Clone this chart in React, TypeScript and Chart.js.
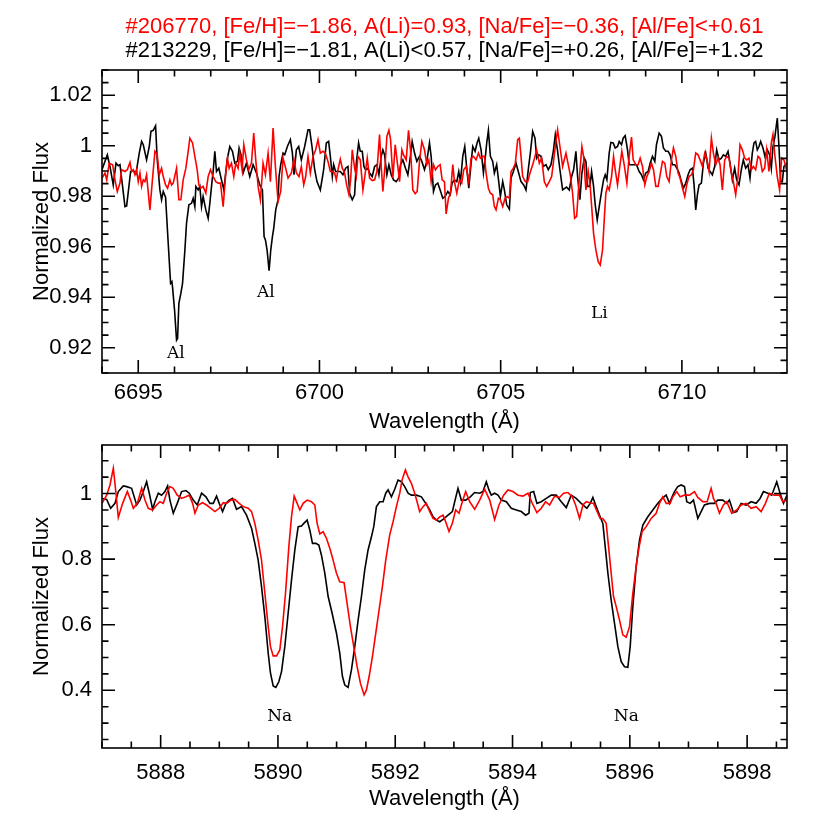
import { useEffect, useRef } from 'react';
import { Chart, registerables } from 'chart.js';

Chart.register(...registerables);

const SANS = '"Liberation Sans", Arial, sans-serif';
const SERIF = '"DejaVu Serif", "Liberation Serif", serif';

const titleRed = '#206770, [Fe/H]=\u22121.86, A(Li)=0.93, [Na/Fe]=\u22120.36, [Al/Fe]<+0.61';
const titleBlack = '#213229, [Fe/H]=\u22121.81, A(Li)<0.57, [Na/Fe]=+0.26, [Al/Fe]=+1.32';

// ---------- Top panel (Li / Al region) ----------
const topXTicks = [6695, 6700, 6705, 6710];
const topYTicks = [0.92, 0.94, 0.96, 0.98, 1.0, 1.02];

const topBlackWave = [6694.0, 6694.147, 6694.22, 6694.31, 6694.386, 6694.45, 6694.496, 6694.634, 6694.68, 6694.79, 6694.863, 6694.937, 6695.028, 6695.093, 6695.139, 6695.23, 6695.304, 6695.35, 6695.414, 6695.478, 6695.524, 6695.598, 6695.644, 6695.69, 6695.754, 6695.827, 6695.892, 6695.928, 6695.947, 6696.002, 6696.057, 6696.085, 6696.121, 6696.176, 6696.222, 6696.287, 6696.332, 6696.397, 6696.47, 6696.516, 6696.562, 6696.59, 6696.654, 6696.7, 6696.746, 6696.79, 6696.865, 6696.929, 6696.975, 6697.04, 6697.067, 6697.113, 6697.159, 6697.223, 6697.297, 6697.361, 6697.453, 6697.526, 6697.6, 6697.664, 6697.737, 6697.783, 6697.848, 6697.894, 6697.985, 6698.077, 6698.169, 6698.261, 6698.353, 6698.426, 6698.472, 6698.509, 6698.555, 6698.61, 6698.656, 6698.702, 6698.738, 6698.793, 6698.858, 6698.885, 6698.931, 6698.995, 6699.041, 6699.115, 6699.197, 6699.253, 6699.298, 6699.363, 6699.427, 6699.5, 6699.592, 6699.684, 6699.73, 6699.794, 6699.868, 6699.932, 6700.024, 6700.116, 6700.189, 6700.253, 6700.3, 6700.355,
  6700.391, 6700.446, 6700.511, 6700.575, 6700.648, 6700.722, 6700.786, 6700.832, 6700.905, 6700.97, 6701.016, 6701.08, 6701.126, 6701.181, 6701.227, 6701.273, 6701.337, 6701.383, 6701.456, 6701.521, 6701.585, 6701.64, 6701.704, 6701.75, 6701.796, 6701.86, 6701.916, 6701.98, 6702.044, 6702.118, 6702.182, 6702.237, 6702.301, 6702.375, 6702.439, 6702.503, 6702.558, 6702.623, 6702.687, 6702.76, 6702.825, 6702.898, 6702.962, 6703.036, 6703.082, 6703.146, 6703.201, 6703.265, 6703.33, 6703.403, 6703.467, 6703.541, 6703.605, 6703.66, 6703.724, 6703.789, 6703.844, 6703.89, 6703.954, 6704.009, 6704.064, 6704.12, 6704.184, 6704.23, 6704.294, 6704.349, 6704.395, 6704.459, 6704.524, 6704.578, 6704.615, 6704.661, 6704.716, 6704.78, 6704.826, 6704.89, 6704.946, 6704.992, 6705.056, 6705.102, 6705.166, 6705.24, 6705.286, 6705.35, 6705.423, 6705.497, 6705.561, 6705.635, 6705.699, 6705.772, 6705.818, 6705.883, 6705.947, 6705.993, 6706.048, 6706.112, 6706.177, 6706.25, 6706.314, 6706.388, 6706.452, 6706.507, 6706.571, 6706.635, 6706.709,
  6706.819, 6706.893, 6706.957, 6707.012, 6707.076, 6707.122, 6707.186, 6707.241, 6707.306, 6707.352, 6707.398, 6707.462, 6707.508, 6707.563, 6707.609, 6707.664, 6707.719, 6707.792, 6707.838, 6707.884, 6707.93, 6707.994, 6708.04, 6708.105, 6708.16, 6708.224, 6708.27, 6708.334, 6708.38, 6708.435, 6708.5, 6708.545, 6708.61, 6708.683, 6708.748, 6708.821, 6708.885, 6708.94, 6709.004, 6709.069, 6709.124, 6709.188, 6709.253, 6709.298, 6709.372, 6709.436, 6709.491, 6709.556, 6709.62, 6709.675, 6709.739, 6709.804, 6709.859, 6709.923, 6709.987, 6710.042, 6710.106, 6710.171, 6710.226, 6710.29, 6710.336, 6710.382, 6710.428, 6710.474, 6710.538, 6710.593, 6710.657, 6710.722, 6710.777, 6710.841, 6710.905, 6710.96, 6711.025, 6711.089, 6711.144, 6711.208, 6711.273, 6711.328, 6711.392, 6711.456, 6711.511, 6711.576, 6711.64, 6711.695, 6711.759, 6711.824, 6711.879, 6711.943, 6711.989, 6712.035, 6712.081, 6712.127, 6712.173, 6712.237, 6712.292, 6712.357, 6712.421, 6712.467, 6712.513, 6712.568, 6712.632, 6712.678, 6712.724, 6712.77, 6712.816, 6712.9];
const topBlackFlux = [0.9905, 0.9964, 0.9918, 0.9845, 0.9931, 0.9921, 0.9925, 0.9759, 0.9762, 0.9898, 0.9902, 0.9889, 0.9971, 1.0017, 1.0004, 0.9944, 0.9997, 1.0057, 1.0061, 1.0079, 0.9944, 0.9825, 0.9786, 0.9819, 0.9796, 0.9614, 0.9455, 0.9462, 0.9439, 0.9349, 0.923, 0.9237, 0.9376, 0.9415, 0.9455, 0.9587, 0.9693, 0.9766, 0.9772, 0.9792, 0.9759, 0.9839, 0.9825, 0.9839, 0.9759, 0.9799, 0.9746, 0.9713, 0.9772, 0.9865, 0.9898, 0.9978, 0.9898, 0.9911, 0.9865, 0.9825, 0.9944, 0.9997, 0.9978, 0.9931, 0.9938, 0.9991, 0.9958, 0.9892, 0.9931, 0.9878, 0.9925, 0.9892, 0.9845, 0.9825, 0.964, 0.9627, 0.9587, 0.9505, 0.9587, 0.964, 0.9673, 0.9746, 0.9786, 0.9878, 0.9925, 0.9971, 0.9964, 0.9997, 1.0024, 0.9971, 0.9885, 0.9984, 0.9997, 0.9944, 0.9997, 1.0063, 1.0063, 0.9997, 0.9905, 0.9858, 0.9825, 0.9905, 1.0011, 1.0017, 0.9958, 0.9878,
  0.9925, 0.9898, 0.9898, 0.9898, 0.9885, 0.9911, 0.9918, 0.9812, 0.9786, 0.9806, 0.9931, 1.0011, 0.9978, 0.9978, 0.9918, 0.9905, 0.9911, 0.9892, 0.9878, 0.9918, 0.9925, 0.9885, 0.9958, 0.9984, 0.9964, 0.9885, 0.9925, 0.9885, 0.9865, 0.9858, 0.9872, 0.9925, 0.9944, 0.9911, 0.9885, 0.9951, 1.0017, 0.9971, 0.9938, 0.9958, 0.9938, 0.9905, 0.9938, 1.0011, 0.9958, 0.9819, 0.9845, 0.9852, 0.9825, 0.9792, 0.9799, 0.9819, 0.9806, 0.9852, 0.9865, 0.9858, 0.9898, 0.9858, 0.9958, 0.9997, 0.9911, 0.9832, 0.9931, 0.9997, 0.9978, 1.0011, 1.003, 0.9984, 0.9892, 0.9958, 1.0011, 1.0061, 0.9958, 0.9938, 0.9892, 0.9925, 0.9858, 0.9799, 0.9858, 0.9825, 0.9766, 0.9749, 0.9872, 0.9898, 0.9931, 0.9892, 0.9858, 0.9845, 0.9825, 0.9918, 0.9971, 1.0057, 1.003, 0.9951, 0.9964, 0.9958, 0.9918, 0.9925, 0.9905, 0.9925, 0.9978, 1.0044, 0.9978, 0.9905, 0.9825,
  0.9836, 0.9825, 0.9878, 0.9905, 0.9978, 0.9878, 0.9786, 0.9892, 0.9951, 0.9938, 0.9839, 0.9839, 0.9898, 0.9839, 0.9766, 0.9706, 0.9759, 0.9825, 0.9865, 0.9885, 0.9865, 0.9971, 1.0013, 1.0011, 0.9991, 0.9997, 1.0017, 1.0004, 1.003, 1.004, 0.9984, 0.9925, 0.9925, 0.9925, 0.9925, 0.9898, 0.9885, 0.9865, 0.9892, 0.9898, 0.9931, 0.9958, 0.9938, 1.0004, 1.005, 1.0037, 0.9991, 0.9978, 0.9978, 0.9964, 0.9925, 0.9925, 0.9911, 0.9892, 0.9858, 0.9832, 0.9852, 0.9885, 0.9905, 0.9911, 0.9845, 0.9746, 0.9806, 0.9845, 0.9852, 0.9931, 0.9971, 0.9911, 0.9898, 0.9885, 0.9918, 0.9984, 0.9944, 0.9951, 0.9964, 0.9958, 0.9978, 0.9931, 0.9865, 0.9911, 0.9865, 0.9845, 0.9905, 0.9944, 0.9911, 0.9925, 0.9872, 0.9971, 1.0011, 1.0017, 0.9984, 0.9997, 1.0017, 0.9991, 0.9958, 0.9984, 0.9964, 0.9911, 0.9997, 1.0037, 1.011, 0.9997, 0.9858, 0.9858, 0.9918, 0.9931];

const topRedWave = [6694.0, 6694.083, 6694.13, 6694.2, 6694.294, 6694.358, 6694.422, 6694.496, 6694.54, 6694.634, 6694.698, 6694.771, 6694.817, 6694.863, 6694.909, 6694.955, 6695.0, 6695.047, 6695.093, 6695.139, 6695.184, 6695.23, 6695.322, 6695.387, 6695.46, 6695.524, 6695.58, 6695.644, 6695.69, 6695.754, 6695.81, 6695.873, 6695.919, 6695.965, 6696.057, 6696.121, 6696.176, 6696.24, 6696.314, 6696.378, 6696.424, 6696.498, 6696.562, 6696.626, 6696.672, 6696.727, 6696.79, 6696.865, 6696.929, 6696.993, 6697.067, 6697.14, 6697.205, 6697.269, 6697.343, 6697.416, 6697.462, 6697.508, 6697.572, 6697.636, 6697.692, 6697.755, 6697.802, 6697.866, 6697.912, 6697.985, 6698.05, 6698.123, 6698.187, 6698.242, 6698.307, 6698.37, 6698.444, 6698.509, 6698.582, 6698.647, 6698.72, 6698.784, 6698.858, 6698.931, 6698.995, 6699.068, 6699.133, 6699.225, 6699.298, 6699.363, 6699.436, 6699.5, 6699.565, 6699.62, 6699.684, 6699.748, 6699.822, 6699.895, 6699.96, 6700.024, 6700.097, 6700.16, 6700.235, 6700.3,
  6700.354, 6700.419, 6700.465, 6700.511, 6700.575, 6700.63, 6700.694, 6700.758, 6700.814, 6700.86, 6700.905, 6700.97, 6701.016, 6701.062, 6701.126, 6701.199, 6701.264, 6701.318, 6701.383, 6701.456, 6701.521, 6701.585, 6701.658, 6701.704, 6701.75, 6701.815, 6701.86, 6701.916, 6701.962, 6702.026, 6702.09, 6702.145, 6702.21, 6702.274, 6702.32, 6702.393, 6702.457, 6702.512, 6702.577, 6702.641, 6702.696, 6702.76, 6702.825, 6702.898, 6702.962, 6703.017, 6703.082, 6703.146, 6703.201, 6703.265, 6703.33, 6703.385, 6703.449, 6703.495, 6703.559, 6703.614, 6703.679, 6703.724, 6703.789, 6703.862, 6703.926, 6703.981, 6704.046, 6704.12, 6704.184, 6704.248, 6704.321, 6704.386, 6704.441, 6704.505, 6704.551, 6704.597, 6704.661, 6704.716, 6704.78, 6704.826, 6704.872, 6704.937, 6704.992, 6705.056, 6705.12, 6705.176, 6705.24, 6705.286, 6705.35, 6705.405, 6705.469, 6705.515, 6705.561, 6705.607, 6705.68, 6705.745, 6705.809, 6705.883, 6705.947, 6705.993, 6706.066, 6706.13, 6706.204, 6706.268, 6706.342, 6706.406, 6706.452, 6706.507, 6706.571, 6706.635, 6706.709,
  6706.801, 6706.865, 6706.92, 6706.984, 6707.04, 6707.095, 6707.15, 6707.196, 6707.241, 6707.287, 6707.352, 6707.416, 6707.471, 6707.517, 6707.563, 6707.627, 6707.691, 6707.747, 6707.81, 6707.857, 6707.902, 6707.948, 6707.994, 6708.059, 6708.114, 6708.16, 6708.224, 6708.288, 6708.343, 6708.408, 6708.481, 6708.545, 6708.61, 6708.656, 6708.729, 6708.793, 6708.848, 6708.913, 6708.977, 6709.032, 6709.096, 6709.161, 6709.216, 6709.28, 6709.344, 6709.399, 6709.464, 6709.528, 6709.583, 6709.647, 6709.712, 6709.767, 6709.831, 6709.895, 6709.95, 6710.015, 6710.079, 6710.134, 6710.198, 6710.263, 6710.318, 6710.382, 6710.446, 6710.501, 6710.566, 6710.63, 6710.685, 6710.75, 6710.814, 6710.869, 6710.933, 6710.997, 6711.052, 6711.117, 6711.181, 6711.236, 6711.3, 6711.365, 6711.42, 6711.484, 6711.548, 6711.603, 6711.668, 6711.732, 6711.787, 6711.851, 6711.916, 6711.971, 6712.035, 6712.099, 6712.154, 6712.219, 6712.283, 6712.338, 6712.402, 6712.467, 6712.513, 6712.568, 6712.632, 6712.696, 6712.751, 6712.816, 6712.9];
const topRedFlux = [0.9872, 0.9892, 0.9865, 0.9931, 0.9925, 0.9865, 0.9819, 0.9852, 0.9905, 0.9898, 0.9905, 0.9934, 0.9898, 0.9905, 0.9885, 0.9905, 0.9858, 0.9892, 0.9839, 0.9865, 0.9858, 0.9885, 0.9746, 0.9858, 0.9978, 0.9964, 0.9885, 0.9911, 0.9878, 0.9845, 0.9832, 0.9865, 0.9845, 0.9852, 0.9911, 0.9786, 0.9786, 0.9865, 0.9911, 0.9978, 1.003, 1.0011, 0.9958, 0.9905, 0.9845, 0.9832, 0.9839, 0.9812, 0.9878, 0.9905, 0.9878, 0.9858, 0.9852, 0.9852, 0.9759, 0.9892, 0.9951, 0.9911, 0.9931, 0.9878, 0.9931, 0.9911, 0.9971, 0.9905, 1.0004, 0.9944, 0.9905, 0.9931, 1.005, 0.9944, 0.9839, 0.9786, 0.9931, 0.9885, 0.9971, 0.9858, 1.007, 0.9918, 0.9779, 0.9819, 0.9951, 0.9911, 0.9872, 0.9892, 0.9944, 0.9892, 0.9878, 0.9918, 0.9845, 0.9878, 0.9958, 0.9892, 0.9958, 0.9984, 1.0024, 0.9971, 0.9978, 0.9971, 0.9938, 0.9898,
  0.9898, 0.9892, 0.9865, 0.9905, 0.9947, 0.9911, 0.9892, 0.9839, 0.9806, 0.9865, 0.9984, 0.9911, 0.9878, 0.9958, 0.9944, 0.9825, 0.9892, 0.9951, 0.9872, 0.9862, 0.9865, 0.9898, 1.0044, 0.9918, 0.9819, 0.9931, 1.0037, 1.0061, 1.0024, 0.9872, 1.0004, 0.9938, 0.9858, 0.9984, 0.9964, 0.9944, 1.0061, 0.9984, 0.9825, 0.981, 0.9819, 0.9938, 1.0017, 0.9984, 0.9925, 0.9944, 0.9858, 0.9925, 0.9905, 0.9918, 0.9925, 0.9865, 0.9858, 0.973, 0.9792, 0.9812, 0.9925, 0.9858, 0.9812, 0.9865, 0.9852, 0.9905, 0.9918, 0.9858, 0.9951, 0.9958, 0.9944, 0.9971, 0.9951, 0.9958, 0.9958, 0.9892, 0.9832, 0.9812, 0.9806, 0.9759, 0.9746, 0.9792, 0.9786, 0.9759, 0.9792, 0.9799, 0.9792, 0.9898, 0.9911, 0.9931, 1.0024, 1.003, 0.9958, 0.9878, 0.9858, 0.9858, 0.9892, 0.9925, 0.9958, 0.9984, 0.9931, 0.9951, 0.9858, 0.9839, 0.9858, 0.9878, 0.9931, 0.9997, 1.0063, 0.9997, 0.9918,
  0.9971, 0.9925, 0.9885, 0.9812, 0.9713, 0.972, 0.9832, 0.9918, 0.9997, 0.9958, 0.9825, 0.9898, 0.9839, 0.9746, 0.9653, 0.9587, 0.9541, 0.9528, 0.9587, 0.9706, 0.9812, 0.9839, 0.9825, 0.9878, 0.9958, 0.9905, 0.9845, 0.9918, 0.9978, 0.9925, 0.9852, 0.9958, 1.0034, 0.9944, 0.9925, 0.9925, 0.9951, 0.9918, 0.9845, 0.9878, 0.9898, 0.9931, 0.9905, 0.9839, 0.9839, 0.9885, 0.9938, 0.9931, 0.9878, 0.9858, 0.9944, 0.9991, 0.9958, 0.9892, 0.9872, 0.9832, 0.9799, 0.9845, 0.9878, 0.9885, 0.9905, 0.9971, 0.9964, 0.9944, 0.9918, 0.9971, 0.9951, 0.9898, 1.003, 0.9971, 0.9925, 0.9951, 0.9925, 0.9825, 0.9944, 0.9958, 0.9951, 0.9892, 0.9858, 0.9806, 0.9878, 1.0004, 0.9984, 0.9951, 0.9944, 0.9951, 0.9905, 0.9918, 0.9905, 0.9958, 0.9951, 0.9898, 0.9911, 0.9984, 0.9898, 1.0011, 1.0044, 0.9958, 0.9878, 0.9825, 0.9951, 0.9944, 0.9898];

const topLabelText = ['Al', 'Al', 'Li'];
const topLabelWave = [6696.04, 6698.52, 6707.72];
const topLabelFlux = [0.9175, 0.9417, 0.9337];

// ---------- Bottom panel (Na D region) ----------
const botXTicks = [5888, 5890, 5892, 5894, 5896, 5898];
const botYTicks = [0.4, 0.6, 0.8, 1.0];

const botBlackWave = [5887.0, 5887.08, 5887.148, 5887.221, 5887.278, 5887.363, 5887.42, 5887.505, 5887.591, 5887.647, 5887.704, 5887.761, 5887.806, 5887.863, 5887.903, 5887.96, 5888.016, 5888.073, 5888.119, 5888.158, 5888.215, 5888.283, 5888.357, 5888.431, 5888.488, 5888.556, 5888.624, 5888.698, 5888.772, 5888.84, 5888.897, 5888.953, 5888.999, 5889.056, 5889.112, 5889.169, 5889.226, 5889.294, 5889.379, 5889.464, 5889.55, 5889.606, 5889.663, 5889.72, 5889.777, 5889.834, 5889.873, 5889.919, 5889.964, 5890.015, 5890.061, 5890.117, 5890.174, 5890.231, 5890.288, 5890.345, 5890.401, 5890.441, 5890.498, 5890.543, 5890.589, 5890.646, 5890.697, 5890.742, 5890.799, 5890.856, 5890.924, 5890.998, 5891.054, 5891.1, 5891.14, 5891.196, 5891.253, 5891.31, 5891.367, 5891.424, 5891.48, 5891.537, 5891.594, 5891.634, 5891.679, 5891.736, 5891.793, 5891.838, 5891.878, 5891.935, 5891.991, 5892.048, 5892.105, 5892.162, 5892.219, 5892.275, 5892.36, 5892.446, 5892.52, 5892.588, 5892.645, 5892.701, 5892.758, 5892.815,
  5892.9, 5892.974, 5893.014, 5893.07, 5893.127, 5893.201, 5893.28, 5893.354, 5893.44, 5893.496, 5893.553, 5893.598, 5893.638, 5893.695, 5893.752, 5893.809, 5893.894, 5893.979, 5894.064, 5894.149, 5894.223, 5894.28, 5894.303, 5894.36, 5894.416, 5894.49, 5894.575, 5894.661, 5894.746, 5894.831, 5894.916, 5895.001, 5895.086, 5895.171, 5895.268, 5895.325, 5895.37, 5895.427, 5895.484, 5895.54, 5895.586, 5895.626, 5895.682, 5895.739, 5895.796, 5895.853, 5895.91, 5895.966, 5896.006, 5896.051, 5896.108, 5896.165, 5896.222, 5896.307, 5896.392, 5896.478, 5896.551, 5896.62, 5896.676, 5896.721, 5896.761, 5896.818, 5896.875, 5896.932, 5896.971, 5897.028, 5897.085, 5897.159, 5897.216, 5897.272, 5897.358, 5897.443, 5897.5, 5897.585, 5897.653, 5897.698, 5897.767, 5897.823, 5897.898, 5897.983, 5898.068, 5898.153, 5898.221, 5898.278, 5898.352, 5898.42, 5898.505, 5898.562, 5898.62, 5898.68];
const botBlackFlux = [0.985, 0.982, 0.955, 0.97, 1.006, 1.023, 1.021, 1.016, 0.965, 0.98, 1.006, 1.036, 1.001, 0.952, 0.975, 1.001, 0.995, 1.006, 1.023, 0.98, 0.94, 0.97, 1.006, 1.009, 1.001, 0.98, 0.965, 1.001, 0.99, 0.97, 0.97, 0.992, 0.97, 0.945, 0.97, 0.98, 0.985, 0.952, 0.96, 0.934, 0.894, 0.848, 0.797, 0.716, 0.624, 0.513, 0.452, 0.413, 0.409, 0.426, 0.457, 0.533, 0.635, 0.736, 0.828, 0.899, 0.901, 0.909, 0.919, 0.889, 0.848, 0.848, 0.843, 0.812, 0.757, 0.686, 0.635, 0.574, 0.513, 0.442, 0.416, 0.409, 0.462, 0.533, 0.614, 0.686, 0.767, 0.828, 0.868, 0.899, 0.96, 0.975, 0.975, 1.001, 1.011, 0.99, 1.013, 1.041, 1.036, 1.021, 1.001, 0.995, 0.995, 0.99, 0.97, 0.95, 0.929, 0.919, 0.914, 0.921,
  0.934, 0.945, 0.975, 1.016, 0.98, 0.98, 0.99, 1.003, 1.001, 1.006, 1.036, 1.011, 0.995, 1.001, 0.995, 0.98, 0.975, 0.955, 0.95, 0.945, 0.934, 0.94, 1.003, 1.006, 0.97, 0.975, 0.985, 0.995, 0.995, 0.975, 0.957, 0.995, 0.985, 0.97, 0.955, 0.97, 0.988, 0.96, 0.934, 0.909, 0.828, 0.757, 0.675, 0.604, 0.533, 0.487, 0.472, 0.47, 0.533, 0.655, 0.777, 0.858, 0.904, 0.929, 0.95, 0.97, 0.985, 0.995, 0.97, 0.99, 1.006, 1.021, 1.026, 1.021, 0.975, 0.97, 0.98, 0.924, 0.945, 0.965, 0.97, 0.97, 0.98, 0.98, 0.97, 0.98, 0.942, 0.945, 0.97, 0.965, 0.975, 0.97, 0.985, 1.006, 1.001, 0.995, 1.036, 1.001, 0.97, 0.995];

const botRedWave = [5887.0, 5887.08, 5887.136, 5887.193, 5887.238, 5887.278, 5887.352, 5887.432, 5887.488, 5887.534, 5887.602, 5887.676, 5887.733, 5887.789, 5887.863, 5887.931, 5887.988, 5888.045, 5888.102, 5888.158, 5888.215, 5888.283, 5888.357, 5888.431, 5888.488, 5888.545, 5888.585, 5888.641, 5888.715, 5888.783, 5888.857, 5888.925, 5888.999, 5889.067, 5889.124, 5889.198, 5889.266, 5889.34, 5889.408, 5889.493, 5889.55, 5889.606, 5889.663, 5889.72, 5889.777, 5889.834, 5889.873, 5889.919, 5889.976, 5890.032, 5890.078, 5890.129, 5890.186, 5890.231, 5890.277, 5890.328, 5890.373, 5890.43, 5890.498, 5890.572, 5890.629, 5890.668, 5890.714, 5890.771, 5890.828, 5890.884, 5890.941, 5890.998, 5891.054, 5891.128, 5891.179, 5891.236, 5891.293, 5891.35, 5891.407, 5891.469, 5891.509, 5891.555, 5891.611, 5891.668, 5891.725, 5891.781, 5891.838, 5891.906, 5891.963, 5892.02, 5892.077, 5892.116, 5892.173, 5892.219, 5892.275, 5892.332, 5892.372, 5892.417, 5892.474, 5892.53, 5892.588, 5892.645, 5892.701, 5892.758, 5892.815,
  5892.86, 5892.917, 5892.974, 5893.03, 5893.087, 5893.144, 5893.201, 5893.269, 5893.354, 5893.44, 5893.525, 5893.61, 5893.695, 5893.769, 5893.848, 5893.922, 5894.007, 5894.093, 5894.178, 5894.263, 5894.337, 5894.416, 5894.49, 5894.564, 5894.632, 5894.717, 5894.802, 5894.87, 5894.944, 5895.018, 5895.075, 5895.143, 5895.2, 5895.257, 5895.313, 5895.381, 5895.455, 5895.495, 5895.54, 5895.597, 5895.643, 5895.682, 5895.722, 5895.768, 5895.824, 5895.881, 5895.938, 5895.995, 5896.051, 5896.108, 5896.154, 5896.21, 5896.279, 5896.364, 5896.449, 5896.506, 5896.562, 5896.62, 5896.687, 5896.733, 5896.801, 5896.858, 5896.932, 5897.017, 5897.102, 5897.159, 5897.244, 5897.318, 5897.386, 5897.426, 5897.471, 5897.528, 5897.596, 5897.653, 5897.738, 5897.823, 5897.898, 5897.983, 5898.068, 5898.153, 5898.239, 5898.312, 5898.38, 5898.466, 5898.551, 5898.608, 5898.68];
const botRedFlux = [0.97, 0.995, 1.026, 1.077, 1.001, 0.927, 0.97, 1.006, 0.98, 0.955, 0.97, 1.016, 0.98, 0.955, 0.95, 0.965, 0.975, 0.97, 1.001, 1.021, 1.016, 0.995, 0.985, 0.99, 0.995, 0.97, 0.94, 0.965, 0.972, 0.965, 0.955, 0.945, 0.955, 0.972, 0.97, 0.98, 0.982, 0.97, 0.96, 0.955, 0.945, 0.909, 0.858, 0.797, 0.696, 0.594, 0.533, 0.505, 0.505, 0.523, 0.594, 0.696, 0.838, 0.929, 0.992, 0.97, 0.95, 0.97, 0.98, 0.975, 0.965, 0.909, 0.877, 0.884, 0.863, 0.833, 0.797, 0.757, 0.731, 0.728, 0.665, 0.594, 0.533, 0.472, 0.421, 0.386, 0.401, 0.442, 0.503, 0.574, 0.645, 0.716, 0.797, 0.874, 0.914, 0.96, 1.001, 1.041, 1.072, 1.051, 1.031, 1.001, 0.975, 0.945, 0.96, 0.97, 0.945, 0.924, 0.919, 0.929, 0.934,
  0.914, 0.884, 0.909, 0.95, 0.94, 0.975, 1.006, 0.975, 0.952, 0.98, 1.013, 0.98, 0.921, 0.965, 0.995, 1.011, 1.006, 0.995, 0.992, 1.001, 0.97, 0.942, 0.955, 0.975, 0.965, 0.992, 0.988, 1.001, 1.003, 0.99, 0.965, 0.924, 0.965, 0.975, 0.972, 0.97, 0.94, 0.924, 0.924, 0.909, 0.828, 0.757, 0.686, 0.655, 0.614, 0.569, 0.562, 0.594, 0.696, 0.777, 0.833, 0.884, 0.899, 0.924, 0.94, 0.97, 0.99, 0.97, 0.97, 0.99, 1.006, 0.99, 0.995, 0.995, 1.006, 0.988, 0.975, 0.975, 1.016, 0.985, 0.97, 0.94, 0.965, 0.975, 0.94, 0.95, 0.965, 0.97, 0.955, 0.96, 0.945, 0.97, 1.001, 0.995, 0.995, 0.975, 0.98];

const botLabelText = ['Na', 'Na'];
const botLabelWave = [5890.03, 5895.94];
const botLabelFlux = [0.319, 0.319];

const toPoints = (xs: number[], ys: number[]) => xs.map((x, i) => ({ x, y: ys[i] }));

// Draw box frame and inward major/minor ticks on all four sides
const frameTicks = {
  id: 'frameTicks',
  afterDatasetsDraw(chart: any, _args: any, opts: any) {
    const { ctx, chartArea: a, scales } = chart;
    const xs = scales.x;
    const ys = scales.y;
    ctx.save();
    ctx.strokeStyle = '#000';
    ctx.lineWidth = 1.6;
    ctx.strokeRect(a.left, a.top, a.right - a.left, a.bottom - a.top);
    const axis = (scale: any, minor: number, major: number, horiz: boolean) => {
      const start = Math.ceil(scale.min / minor - 1e-9);
      const end = Math.floor(scale.max / minor + 1e-9);
      ctx.beginPath();
      for (let i = start; i <= end; i++) {
        const v = i * minor;
        const r = v / major;
        const isMajor = Math.abs(r - Math.round(r)) < 1e-6;
        const len = isMajor ? 13 : 6.5;
        const p = scale.getPixelForValue(v);
        if (horiz) {
          ctx.moveTo(p, a.bottom);
          ctx.lineTo(p, a.bottom - len);
          ctx.moveTo(p, a.top);
          ctx.lineTo(p, a.top + len);
        } else {
          ctx.moveTo(a.left, p);
          ctx.lineTo(a.left + len, p);
          ctx.moveTo(a.right, p);
          ctx.lineTo(a.right - len, p);
        }
      }
      ctx.stroke();
    };
    axis(xs, opts.xMinor, opts.xMajor, true);
    axis(ys, opts.yMinor, opts.yMajor, false);
    ctx.restore();
  },
};

// Line identification labels placed in data coordinates
const lineLabels = {
  id: 'lineLabels',
  afterDatasetsDraw(chart: any, _args: any, opts: any) {
    const { ctx, scales } = chart;
    ctx.save();
    ctx.fillStyle = '#000';
    ctx.font = `17px ${SERIF}`;
    ctx.textAlign = 'center';
    ctx.textBaseline = 'middle';
    opts.text.forEach((t: string, i: number) => {
      ctx.fillText(t, scales.x.getPixelForValue(opts.wave[i]), scales.y.getPixelForValue(opts.flux[i]));
    });
    ctx.restore();
  },
};

const tickFont = { family: SANS, size: 22, weight: 'normal' };
const axisTitleFont = { family: SANS, size: 22, weight: 'normal' };
const headFont = { family: SANS, size: 22, weight: 'normal', lineHeight: 1.0 };

function makeConfig(p: any) {
  return {
    type: 'line',
    data: {
      datasets: [
        { data: p.red, borderColor: '#ff0000', borderWidth: 1.6, pointRadius: 0, tension: 0, fill: false },
        { data: p.black, borderColor: '#000000', borderWidth: 1.6, pointRadius: 0, tension: 0, fill: false },
      ],
    },
    options: {
      animation: false,
      responsive: false,
      events: [],
      layout: { padding: { left: 0, right: 43, top: p.padTop, bottom: 0 } },
      plugins: {
        legend: { display: false },
        tooltip: { enabled: false },
        title: p.title,
        subtitle: p.subtitle,
        frameTicks: p.ticks,
        lineLabels: p.labels,
      },
      scales: {
        x: {
          type: 'linear',
          min: p.xMin,
          max: p.xMax,
          grid: { display: false, drawTicks: false },
          border: { display: false },
          afterBuildTicks: (s: any) => { s.ticks = p.xTicks.map((v: number) => ({ value: v })); },
          ticks: {
            autoSkip: false,
            maxRotation: 0,
            color: '#000',
            font: tickFont,
            padding: p.xTickPad,
            callback: (v: any) => String(v),
          },
          title: { display: true, text: 'Wavelength (\u00c5)', color: '#000', font: axisTitleFont, padding: { top: 0, bottom: p.xTitlePad } },
          afterFit: (s: any) => { s.height = p.xAxisHeight; s.paddingLeft = 0; s.paddingRight = 0; },
        },
        y: {
          type: 'linear',
          min: p.yMin,
          max: p.yMax,
          grid: { display: false, drawTicks: false },
          border: { display: false },
          afterBuildTicks: (s: any) => { s.ticks = p.yTicks.map((v: number) => ({ value: v })); },
          ticks: {
            autoSkip: false,
            color: '#000',
            font: tickFont,
            padding: 10,
            callback: (v: any) => String(Number(Number(v).toFixed(2))),
          },
          title: { display: true, text: 'Normalized Flux', color: '#000', font: axisTitleFont, padding: { top: 28.8, bottom: 0 } },
          afterFit: (s: any) => { s.width = 102; s.paddingTop = 0; s.paddingBottom = 0; },
        },
      },
    },
    plugins: [frameTicks, lineLabels],
  };
}

export default function App() {
  const topRef = useRef<HTMLCanvasElement>(null);
  const botRef = useRef<HTMLCanvasElement>(null);

  useEffect(() => {
    const top = new Chart(topRef.current as any, makeConfig({
      red: toPoints(topRedWave, topRedFlux),
      black: toPoints(topBlackWave, topBlackFlux),
      padTop: 0,
      title: { display: true, text: titleRed, color: '#ff0000', font: headFont, fullSize: false, padding: { top: 16, bottom: 0 } },
      subtitle: { display: true, text: titleBlack, color: '#000000', font: headFont, fullSize: false, padding: { top: 2, bottom: 8 } },
      ticks: { xMinor: 1, xMajor: 5, yMinor: 0.005, yMajor: 0.02 },
      labels: { text: topLabelText, wave: topLabelWave, flux: topLabelFlux },
      xMin: 6694, xMax: 6712.9, xTicks: topXTicks,
      yMin: 0.91, yMax: 1.03, yTicks: topYTicks,
      xTickPad: 7, xTitlePad: 0, xAxisHeight: 62,
    }) as any);
    const bot = new Chart(botRef.current as any, makeConfig({
      red: toPoints(botRedWave, botRedFlux),
      black: toPoints(botBlackWave, botBlackFlux),
      padTop: 10,
      title: { display: false },
      subtitle: { display: false },
      ticks: { xMinor: 0.5, xMajor: 2, yMinor: 0.05, yMajor: 0.2 },
      labels: { text: botLabelText, wave: botLabelWave, flux: botLabelFlux },
      xMin: 5887, xMax: 5898.68, xTicks: botXTicks,
      yMin: 0.224, yMax: 1.148, yTicks: botYTicks,
      xTickPad: 12, xTitlePad: 18, xAxisHeight: 82,
    }) as any);
    return () => { top.destroy(); bot.destroy(); };
  }, []);

  return (
    <div style={{ position: 'absolute', left: 0, top: 0, width: 830, height: 830, background: '#fff' }}>
      <canvas ref={topRef} width={830} height={435} style={{ position: 'absolute', left: 0, top: 0, width: 830, height: 435 }} />
      <canvas ref={botRef} width={830} height={395} style={{ position: 'absolute', left: 0, top: 435, width: 830, height: 395 }} />
    </div>
  );
}
